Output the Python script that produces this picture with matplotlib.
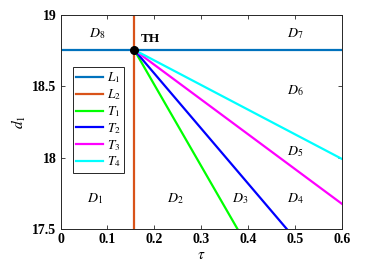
import matplotlib
matplotlib.use('Agg')
import matplotlib.pyplot as plt

plt.rcParams['mathtext.fontset'] = 'stix'
plt.rcParams['font.family'] = 'Liberation Serif'

# data
th = (0.157, 18.755)          # point TH
x_max = 0.6
t_names = ['T_1', 'T_2', 'T_3', 'T_4']
t_end_x = [0.377, 0.482, 0.6, 0.6]
t_end_y = [17.5, 17.5, 17.675, 17.99]
t_colors = ['#00ff00', '#0000ff', '#ff00ff', '#00ffff']

region_names = ['D_1', 'D_2', 'D_3', 'D_4', 'D_5', 'D_6', 'D_7', 'D_8']
region_x = [0.074, 0.244, 0.383, 0.50, 0.50, 0.50, 0.50, 0.078]
region_y = [17.715, 17.715, 17.715, 17.715, 18.04, 18.47, 18.87, 18.87]

fig = plt.figure(figsize=(3.76, 2.71), dpi=100)
ax = fig.add_axes([0.161, 0.155, 0.749, 0.79])

ax.plot([0, x_max], [th[1], th[1]], color='#0072bd', lw=1.6, label='$L_1$')
ax.plot([th[0], th[0]], [17.5, 19], color='#d95319', lw=1.6, label='$L_2$')
for name, ex, ey, c in zip(t_names, t_end_x, t_end_y, t_colors):
    ax.plot([th[0], ex], [th[1], ey], color=c, lw=1.6, label='$' + name + '$')
ax.plot(th[0], th[1], 'o', color='black', ms=5.5, zorder=5)
ax.text(0.172, 18.83, 'TH', fontsize=9.5, fontweight='bold', va='center')

for name, rx, ry in zip(region_names, region_x, region_y):
    ax.text(rx, ry, '$' + name + '$', fontsize=10, ha='center', va='center')

ax.set_xlim(0, 0.6)
ax.set_ylim(17.5, 19)
ax.set_xticks([0, 0.1, 0.2, 0.3, 0.4, 0.5, 0.6])
ax.set_xticklabels(['0', '0.1', '0.2', '0.3', '0.4', '0.5', '0.6'])
ax.set_yticks([17.5, 18, 18.5, 19])
ax.set_yticklabels(['17.5', '18', '18.5', '19'])
ax.tick_params(direction='in', top=True, right=True, length=3, width=0.6,
               labelsize=10, pad=3, colors='#262626')
for lab in ax.get_xticklabels() + ax.get_yticklabels():
    lab.set_fontweight('bold')
    lab.set_color('black')
for s in ax.spines.values():
    s.set_linewidth(0.7)
    s.set_color('#262626')

ax.set_xlabel(r'$\tau$', fontsize=11, labelpad=2)
ax.set_ylabel(r'$d_1$', fontsize=11, labelpad=3)

leg = ax.legend(loc='upper left', bbox_to_anchor=(0.044, 0.755), fontsize=9.5,
                handlelength=2.0, handletextpad=0.3, borderpad=0.25,
                labelspacing=0.15, fancybox=False, framealpha=1,
                edgecolor='#262626', borderaxespad=0)
leg.get_frame().set_linewidth(0.7)

fig.savefig('out.png', dpi=100)
